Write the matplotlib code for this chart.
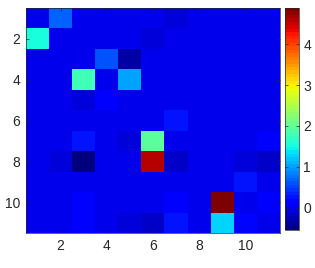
import numpy as np
import matplotlib
matplotlib.use("Agg")
import matplotlib.pyplot as plt

plt.rcParams['font.family'] = ['Liberation Sans', 'DejaVu Sans']

n = 11
ticks = [2, 4, 6, 8, 10]
cbar_ticks = [0, 1, 2, 3, 4]

# non-zero cells: (row, col, value), 1-based
cells_rows = [1, 1, 2, 2, 2, 3, 3, 3, 4, 4, 5, 5, 6, 7, 7, 7, 7,
              8, 8, 8, 8, 8, 8, 9, 9, 10, 10, 10, 10, 10,
              11, 11, 11, 11, 11, 11, 11]
cells_cols = [2, 7, 1, 6, 7, 4, 5, 7, 3, 5, 3, 4, 7, 3, 5, 6, 11,
              2, 3, 6, 7, 10, 11, 10, 11, 3, 7, 9, 10, 11,
              3, 5, 6, 7, 9, 10, 11]
cells_vals = [0.7, -0.1, 1.55, -0.1, 0.05, 0.6, -0.3, 0.05, 1.75, 1.03, -0.1, 0.1, 0.25,
              0.25, -0.05, 1.92, 0.1,
              -0.07, -0.54, 4.55, -0.2, -0.05, -0.2, 0.25, 0.05,
              0.12, 0.1, 4.88, 0.05, 0.1,
              0.12, -0.05, -0.2, 0.3, 1.28, 0.2, 0.05]

data = np.zeros((n, n))
for r, c, v in zip(cells_rows, cells_cols, cells_vals):
    data[r - 1, c - 1] = v

fig = plt.figure(figsize=(3.15, 2.68), dpi=100)
ax = fig.add_axes([26/315, 35/268, 254/315, 225/268])
cax = fig.add_axes([285/315, 38/268, 14/315, 222/268])

cmap = plt.get_cmap('jet', 64)
im = ax.imshow(data, cmap=cmap, aspect='auto', interpolation='nearest',
               extent=[0.5, n + 0.5, n + 0.5, 0.5])
ax.set_xticks(ticks)
ax.set_yticks(ticks)
ax.tick_params(direction='in', length=2, width=0.5, top=True, right=True,
               labelsize=10, colors='#262626', labelcolor='#262626', pad=4)
for s in ax.spines.values():
    s.set_color('#262626')
    s.set_linewidth(0.5)

cb = fig.colorbar(im, cax=cax, ticks=cbar_ticks)
cb.ax.tick_params(direction='in', length=2, width=0.5, labelsize=10,
                  colors='#262626', labelcolor='#262626', left=True, right=True, pad=3)
cb.outline.set_edgecolor('#262626')
cb.outline.set_linewidth(0.5)

fig.savefig('out.png', dpi=100)
